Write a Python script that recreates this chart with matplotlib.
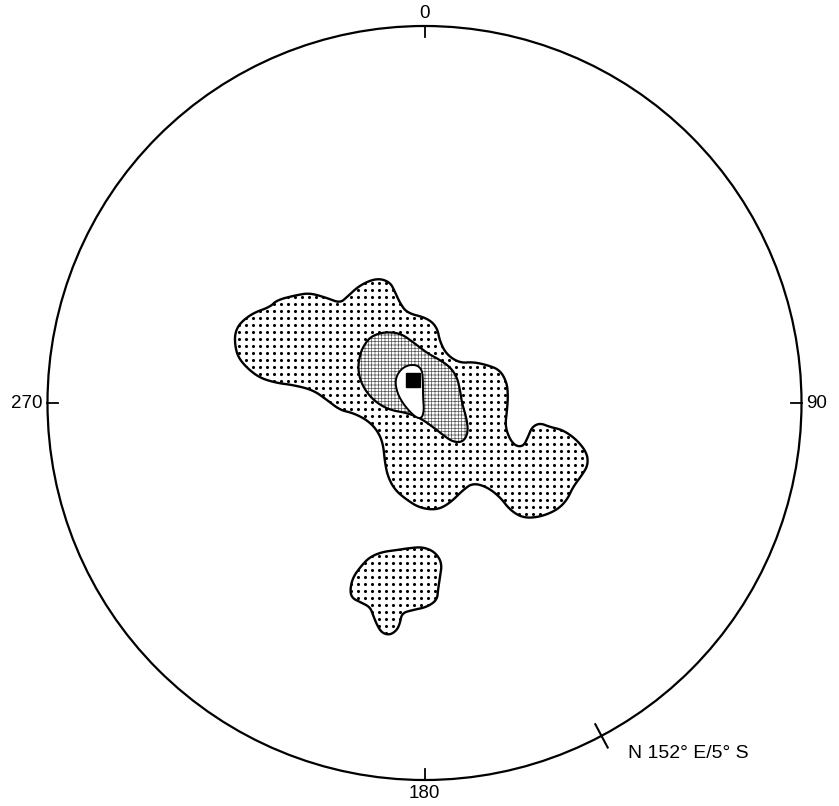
import numpy as np
import matplotlib.pyplot as plt
from matplotlib.patches import Polygon, Circle, Rectangle

# stereonet as it sits in the scanned figure (pixels)
CX, CY, R = 424.5, 403.0, 377.0
W, H = 839, 806

# contour outlines, pixel coords (x right, y down)
outer_x = [235, 240, 253, 270, 277, 297, 310, 327, 340, 347, 360, 377, 390, 395, 400,
           407, 427, 437, 440, 447, 460, 473, 487, 500, 507, 508, 507, 505, 513, 523,
           528, 532, 540, 550, 563, 577, 587, 588, 582, 573, 567, 557, 540, 523, 510,
           500, 487, 473, 463, 450, 437, 420, 407, 395, 388, 385, 383, 377, 367, 353,
           340, 327, 313, 293, 277, 260, 247, 238, 235]
outer_y = [333, 323, 313, 307, 300, 295, 293, 298, 303, 297, 285, 278, 282, 292, 303,
           313, 318, 327, 342, 355, 363, 362, 365, 370, 383, 397, 410, 428, 445, 447,
           437, 427, 423, 427, 430, 440, 453, 465, 475, 487, 500, 510, 517, 518, 510,
           497, 487, 483, 490, 503, 510, 508, 500, 490, 477, 463, 443, 430, 420, 413,
           410, 400, 390, 385, 383, 378, 368, 357, 345]

south_x = [350, 353, 362, 370, 382, 397, 410, 423, 435, 442, 440, 438, 437, 427, 413,
           402, 400, 397, 390, 382, 377, 373, 370, 360, 352]
south_y = [590, 577, 565, 557, 552, 550, 548, 547, 552, 563, 577, 590, 600, 607, 610,
           613, 623, 630, 635, 633, 625, 615, 607, 602, 598]

mid_x = [363, 370, 383, 400, 413, 427, 440, 450, 457, 460, 462, 467, 468, 463, 453,
         443, 433, 420, 407, 390, 377, 367, 360, 358, 360]
mid_y = [347, 337, 332, 333, 342, 353, 360, 367, 377, 390, 403, 420, 433, 442, 442,
         435, 427, 418, 413, 410, 403, 393, 380, 367, 355]

inner_x = [395, 400, 408, 417, 422, 423, 423, 424, 422, 417, 410, 402, 397]
inner_y = [380, 370, 365, 365, 370, 380, 397, 410, 418, 418, 412, 402, 392]

peak_xy = (412.5, 380.0)
peak_size = 14

dir_labels = ['0', '90', '180', '270']
dir_az = [0, 90, 180, 270]
plane_az = 152
plane_label = 'N 152\u00b0 E/5\u00b0 S'


def to_net(xs, ys):
    xs, ys = np.asarray(xs, float), np.asarray(ys, float)
    return np.column_stack([(xs - CX) / R, (CY - ys) / R])


def smooth(pts, n=3):
    # chaikin corner cutting, closed outline
    for _ in range(n):
        nxt = np.roll(pts, -1, axis=0)
        q = 0.75 * pts + 0.25 * nxt
        r = 0.25 * pts + 0.75 * nxt
        pts = np.empty((2 * len(pts), 2))
        pts[0::2] = q
        pts[1::2] = r
    return pts


def az_xy(az, r):
    a = np.radians(az)
    return r * np.sin(a), r * np.cos(a)


plt.rcParams['font.family'] = ['Liberation Sans', 'DejaVu Sans']
plt.rcParams['hatch.linewidth'] = 0.5

fig = plt.figure(figsize=(W / 100, H / 100), dpi=100)
ax = fig.add_axes([0, 0, 1, 1])
ax.set_xlim(-CX / R, (W - CX) / R)
ax.set_ylim((CY - H) / R, CY / R)
ax.axis('off')

ax.add_patch(Circle((0, 0), 1, fill=False, lw=1.6, color='black', zorder=6))

# dotted texture for the lowest contour level
step = 7.0 / R
gx, gy = np.meshgrid(np.arange(-1, 1, step) + step / 3, np.arange(-1, 1, step))
for xs, ys in [(outer_x, outer_y), (south_x, south_y)]:
    p = Polygon(smooth(to_net(xs, ys)), closed=True, fc='white', ec='black', lw=1.7, zorder=2)
    ax.add_patch(p)
    dots = ax.scatter(gx.ravel(), gy.ravel(), s=5, c='black', lw=0, zorder=2.5)
    dots.set_clip_path(p)

# finer mesh for the second level
mid = smooth(to_net(mid_x, mid_y))
ax.add_patch(Polygon(mid, closed=True, fc='white', ec='#555555',
                     lw=0, hatch='+++++', zorder=3))
ax.add_patch(Polygon(mid, closed=True, fill=False, ec='black', lw=1.6, zorder=3.5))

ax.add_patch(Polygon(smooth(to_net(inner_x, inner_y)), closed=True, fc='white', ec='black',
                     lw=1.4, zorder=4))
px, py = to_net([peak_xy[0]], [peak_xy[1]])[0]
hs = peak_size / 2 / R
ax.add_patch(Rectangle((px - hs, py - hs), 2 * hs, 2 * hs, color='black', zorder=5))

# azimuth ticks and labels
label_gap = {0: 12, 90: 5, 180: 13, 270: 5}
label_ha = {0: 'center', 90: 'left', 180: 'center', 270: 'right'}
for lab, az in zip(dir_labels, dir_az):
    x0, y0 = az_xy(az, 1.0)
    x1, y1 = az_xy(az, 0.972)
    ax.plot([x0, x1], [y0, y1], color='black', lw=1.3, zorder=6)
    tx, ty = az_xy(az, 1.0 + label_gap[az] / R)
    ax.text(tx, ty, lab, ha=label_ha[az], va='center', fontsize=13.5)

x0, y0 = az_xy(plane_az, 0.965)
x1, y1 = az_xy(plane_az, 1.035)
ax.plot([x0, x1], [y0, y1], color='black', lw=1.5, zorder=6)
ax.text((628 - CX) / R, (CY - 753) / R, plane_label, ha='left', va='center', fontsize=14)

fig.savefig('out.png', dpi=100)
